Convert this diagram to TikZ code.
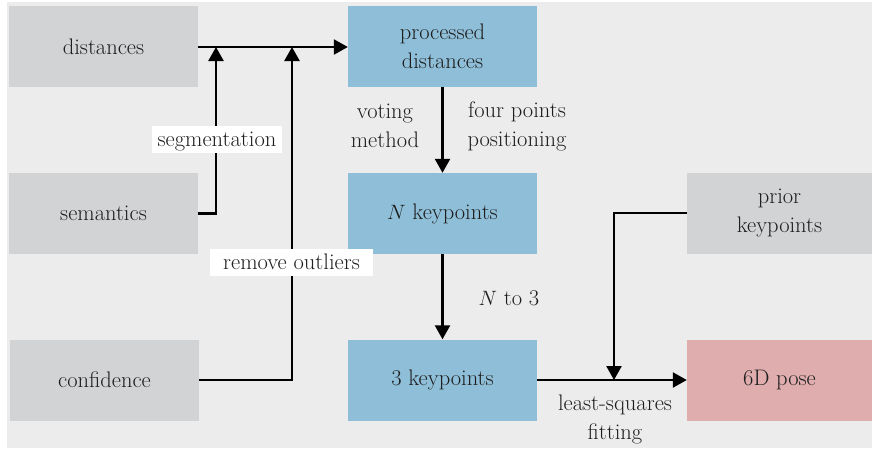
\documentclass[tikz,border=0pt]{standalone}
\usetikzlibrary{arrows.meta}
\definecolor{bg}{HTML}{ECECEC}
\definecolor{boxgray}{HTML}{D2D3D4}
\definecolor{boxblue}{HTML}{8FBFD8}
\definecolor{boxpink}{HTML}{DFADAD}
\definecolor{txt}{HTML}{1E1E1E}
\begin{document}
\begin{tikzpicture}[x=1pt,y=-1pt,
  every node/.style={font=\fontsize{22.5}{29}\selectfont, text=txt},
  box/.style={minimum width=189pt, minimum height=81pt, inner sep=0pt, align=center},
  gbox/.style={box, fill=boxgray},
  bbox/.style={box, fill=boxblue},
  pbox/.style={box, fill=boxpink},
  lab/.style={align=center, inner sep=2pt},
  wlab/.style={fill=white, inner sep=0pt, minimum height=27pt, text depth=0pt},
  conn/.style={line width=2.4pt, black},
  arr/.style={conn, -{Triangle[length=14pt,width=15pt]}}]
\useasboundingbox (0,0) rectangle (872,451);
\fill[bg] (7,2) rectangle (872,448);
\node[gbox] (dist) at (103.5,46.5) {distances};
\node[gbox] (sem) at (103.5,213.5) {semantics};
\node[gbox] (conf) at (104.5,380) {confidence};
\node[bbox] (pd) at (442.5,46.5) {processed\\distances};
\node[bbox] (nk) at (442.5,213.5) {$N$ keypoints};
\node[bbox] (tk) at (442.5,380) {3 keypoints};
\node[gbox, minimum width=185pt] (prior) at (779.5,213) {prior\\keypoints};
\node[pbox, minimum width=185pt] (pose) at (779.5,380) {6D pose};
\coordinate (j1) at (216,47);
\coordinate (j2) at (292,47);
\coordinate (j3) at (614,380);
\draw[arr] (dist.east |- 0,47) -- (pd.west |- 0,47);
\draw[arr] (sem.east) -| (j1);
\draw[arr] (conf.east) -| (j2);
\draw[arr] (pd) -- (nk);
\draw[arr] (nk) -- (tk);
\draw[arr] (tk.east) -- (pose.west);
\draw[arr] (prior.west) -| (j3);
\node[wlab, minimum width=130pt] (seg) at (217,139.5) {segmentation};
\node[wlab, minimum width=163pt] (rem) at (291.5,262) {remove outliers};
\node[lab] (vm) at (385,126) {voting\\method};
\node[lab] (fp) at (517,126) {four points\\positioning};
\node[lab] (nt) at (509,298) {$N$ to 3};
\node[lab] (ls) at (615,419) {least-squares\\fitting};
\end{tikzpicture}
\end{document}
